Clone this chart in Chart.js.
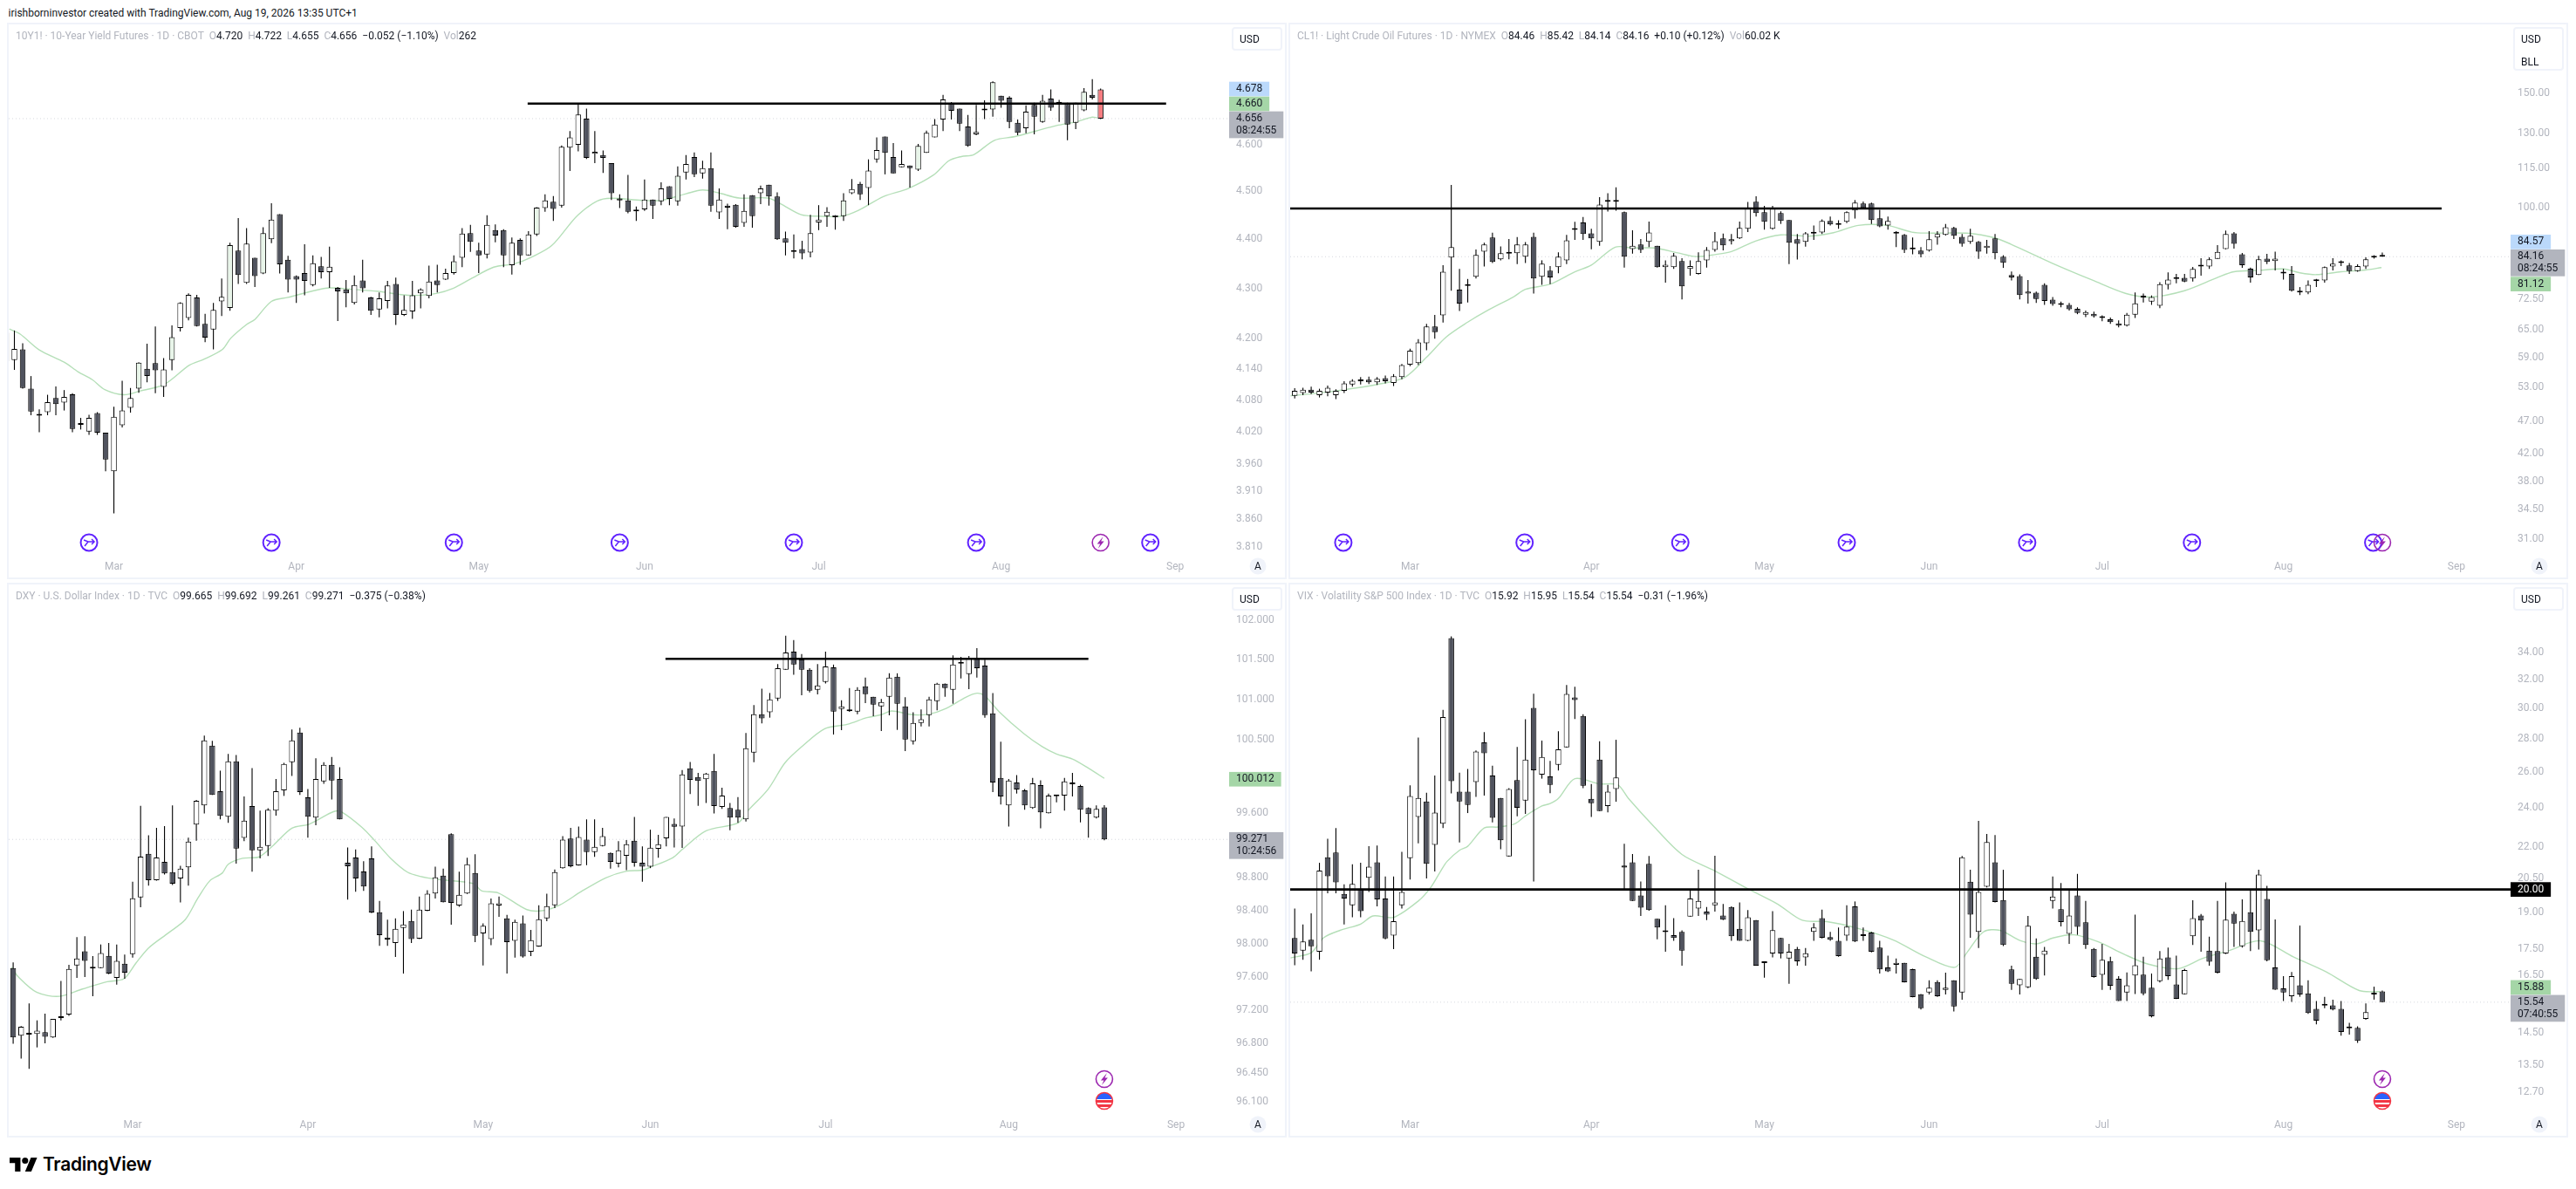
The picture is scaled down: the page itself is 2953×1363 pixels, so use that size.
<!DOCTYPE html>
<html>
<head>
<meta charset="utf-8">
<title>TradingView multi chart</title>
<script src="https://cdn.jsdelivr.net/npm/chart.js@4/dist/chart.umd.min.js"></script>
<style>
  html, body { margin: 0; padding: 0; background: #fff; width: 2953px; height: 1363px; overflow: hidden; }
  body { position: relative; font-family: Roboto, "Open Sans", sans-serif; font-size: 12px; color: #131722; }
  .abs { position: absolute; white-space: pre; }
  .frame { position: absolute; border: 2px solid #f0f3fa; box-sizing: border-box; }
  .mute { color: #b2b5be; }
  .unit { position: absolute; box-sizing: border-box; border: 2px solid #f0f3fa; border-radius: 4px; background: #fff; }
  canvas { position: absolute; }
</style>
</head>
<body>
<script>
// candles are [open, high, low, close]
const yieldFirstIndex = -1;
const yieldCandles = [
  [4.212,4.212,4.156,4.156],[4.158,4.216,4.139,4.180],[4.179,4.191,4.103,4.104],[4.103,4.127,4.052,4.059],[4.053,4.063,4.020,4.051],
  [4.058,4.091,4.052,4.077],[4.085,4.107,4.052,4.073],[4.076,4.100,4.061,4.087],[4.092,4.094,4.020,4.026],[4.035,4.047,4.025,4.034],
  [4.021,4.053,4.015,4.047],[4.056,4.058,4.015,4.019],[4.019,4.019,3.947,3.969],[3.947,4.068,3.870,4.049],[4.033,4.118,4.029,4.061],
  [4.066,4.104,4.057,4.085],[4.103,4.154,4.095,4.153],[4.141,4.190,4.115,4.127],[4.152,4.224,4.094,4.138],[4.106,4.162,4.087,4.140],
  [4.158,4.226,4.138,4.203],[4.221,4.272,4.214,4.271],[4.241,4.290,4.236,4.287],[4.282,4.287,4.224,4.225],[4.229,4.249,4.193,4.202],
  [4.218,4.271,4.179,4.257],[4.274,4.320,4.245,4.283],[4.261,4.393,4.255,4.388],[4.377,4.444,4.309,4.327],[4.311,4.423,4.309,4.391],
  [4.362,4.362,4.303,4.325],[4.330,4.425,4.329,4.413],[4.400,4.475,4.392,4.441],[4.452,4.452,4.330,4.349],[4.358,4.366,4.292,4.318],
  [4.325,4.326,4.271,4.318],[4.331,4.390,4.286,4.315],[4.307,4.367,4.304,4.351],[4.345,4.364,4.320,4.333],[4.333,4.385,4.301,4.344],
  [4.301,4.303,4.235,4.294],[4.298,4.317,4.262,4.290],[4.271,4.326,4.268,4.307],[4.316,4.358,4.292,4.300],[4.282,4.283,4.247,4.255],
  [4.258,4.292,4.242,4.280],[4.275,4.315,4.260,4.306],[4.309,4.322,4.227,4.247],[4.247,4.286,4.245,4.257],[4.254,4.315,4.239,4.286],
  [4.290,4.300,4.260,4.298],[4.285,4.346,4.280,4.314],[4.316,4.348,4.292,4.307],[4.318,4.340,4.317,4.331],[4.331,4.367,4.328,4.355],
  [4.362,4.423,4.343,4.412],[4.413,4.430,4.374,4.395],[4.377,4.393,4.331,4.367],[4.369,4.450,4.361,4.430],[4.419,4.431,4.394,4.408],
  [4.419,4.421,4.343,4.367],[4.347,4.404,4.328,4.393],[4.399,4.402,4.348,4.367],[4.367,4.417,4.367,4.410],[4.410,4.467,4.407,4.466],
  [4.465,4.494,4.457,4.481],[4.478,4.490,4.438,4.463],[4.470,4.598,4.466,4.595],[4.593,4.629,4.543,4.615],[4.599,4.688,4.585,4.665],
  [4.656,4.678,4.569,4.571],[4.580,4.629,4.560,4.584],[4.577,4.587,4.539,4.571],[4.560,4.560,4.482,4.496],[4.485,4.494,4.465,4.481],
  [4.481,4.535,4.454,4.457],[4.460,4.468,4.438,4.458],[4.462,4.525,4.459,4.483],[4.483,4.483,4.442,4.470],[4.479,4.519,4.471,4.506],
  [4.511,4.511,4.471,4.484],[4.479,4.553,4.470,4.533],[4.540,4.577,4.525,4.558],[4.573,4.583,4.530,4.536],[4.538,4.565,4.527,4.549],
  [4.549,4.583,4.457,4.470],[4.456,4.506,4.442,4.483],[4.470,4.474,4.421,4.466],[4.472,4.473,4.424,4.426],[4.434,4.494,4.426,4.459],
  [4.492,4.492,4.424,4.448],[4.496,4.512,4.473,4.506],[4.514,4.514,4.470,4.489],[4.489,4.498,4.399,4.400],[4.402,4.416,4.367,4.393],
  [4.375,4.410,4.361,4.374],[4.380,4.397,4.359,4.371],[4.373,4.451,4.363,4.413],[4.435,4.471,4.419,4.441],[4.448,4.467,4.426,4.457],
  [4.450,4.450,4.420,4.446],[4.448,4.496,4.438,4.481],[4.496,4.526,4.494,4.505],[4.516,4.520,4.482,4.494],[4.507,4.568,4.471,4.544],
  [4.568,4.615,4.561,4.588],[4.617,4.617,4.536,4.582],[4.573,4.603,4.538,4.538],[4.551,4.587,4.551,4.558],[4.555,4.555,4.508,4.549],
  [4.546,4.601,4.543,4.597],[4.582,4.630,4.582,4.625],[4.615,4.655,4.615,4.643],[4.654,4.708,4.629,4.698],[4.689,4.692,4.654,4.673],
  [4.678,4.678,4.629,4.645],[4.639,4.664,4.595,4.597],[4.622,4.686,4.620,4.627],[4.676,4.696,4.655,4.674],[4.676,4.738,4.660,4.736],
  [4.706,4.706,4.680,4.695],[4.702,4.705,4.635,4.649],[4.647,4.654,4.620,4.625],[4.635,4.685,4.624,4.671],[4.686,4.691,4.622,4.660],
  [4.649,4.708,4.647,4.695],[4.700,4.720,4.673,4.680],[4.691,4.697,4.649,4.689],[4.688,4.691,4.609,4.643],[4.647,4.691,4.633,4.691],
  [4.674,4.723,4.672,4.715],[4.708,4.743,4.698,4.702],[4.720,4.722,4.655,4.656]
];
const yieldTinted = [15,19,26,30,53,63,80,100,109,118,124,129];
const yieldAlert = [131];
const yieldEmaIndex = [-0.6,0.7,3,6,7.7,9.4,10.9,13.2,15.1,18.1,21.1,22.9,25.1,26.1,28,29,31,33,36,38,41,43.9,46.9,48.4,50.9,52.9,54.9,57.8,60.3,62.3,64.8,68,71,75.7,78,81,83,84.9,87.4,90.9,92.4,94.9,96.9,99.8,101.8,104.8,107.8,110.8,112.7,114.2,115.7,118.2,120.7,123.2,125.7,128.1,129.9,130.6];
const yieldEmaValue = [4.219,4.209,4.178,4.154,4.135,4.120,4.101,4.091,4.098,4.111,4.148,4.160,4.179,4.201,4.228,4.238,4.274,4.282,4.295,4.301,4.298,4.294,4.287,4.286,4.290,4.300,4.318,4.343,4.350,4.363,4.387,4.451,4.484,4.481,4.481,4.495,4.503,4.497,4.486,4.486,4.474,4.451,4.448,4.448,4.460,4.489,4.506,4.534,4.565,4.574,4.578,4.609,4.617,4.629,4.641,4.649,4.659,4.658];
const yieldTicks = [4.6,4.5,4.4,4.3,4.2,4.14,4.08,4.02,3.96,3.91,3.86,3.81];
const yieldMonths = [12,34,56,76,97,119,140];
const yieldLevel = { from: 61.9, to: 138.9, value: 4.689 };
const yieldArrows = [9,31,53,73,94,116,137];
const yieldBolts = [131];
const yieldFlags = [];

const oilFirstIndex = 0;
const oilCandles = [
  [51.5,52.9,51.0,52.4],[52.0,53.0,51.6,52.6],[52.6,53.2,51.8,52.1],[51.6,52.8,51.2,52.4],[52.1,53.4,51.4,53.0],
  [51.6,52.7,50.9,52.4],[52.4,54.2,52.0,53.8],[53.6,54.6,53.2,54.3],[54.2,55.0,53.6,54.4],[54.5,55.1,53.7,54.0],
  [54.0,55.0,53.5,54.7],[54.8,55.3,53.8,54.2],[53.9,55.6,53.3,55.2],[55.0,57.6,54.6,57.4],[57.5,60.8,57.2,60.4],
  [57.8,62.9,57.4,62.2],[62.0,66.4,60.5,65.8],[65.8,68.5,63.0,64.5],[68.4,81.7,66.7,79.8],[83.9,108.4,74.65,87.05],
  [74.9,80.6,69.5,71.3],[76.1,77.8,71.6,75.9],[78.4,86.36,77.9,84.7],[85.7,88.4,81.3,87.85],[90.05,91.63,82.3,82.6],
  [83.4,87.3,83.1,85.2],[85.1,89.6,83.4,85.3],[85.2,90.2,82.0,87.85],[84.15,88.6,82.3,87.85],[90.3,91.63,73.9,77.9],
  [78.4,83.1,76.2,82.1],[80.1,81.4,76.4,78.2],[81.1,85.5,79.4,84.15],[83.1,90.9,82.0,89.2],[92.7,95.2,89.3,92.5],
  [95.0,96.8,89.3,91.2],[91.4,92.9,86.4,89.8],[88.7,103.9,87.5,101.2],[102.2,105.3,98.7,102.8],[102.5,107.5,99.0,102.2],
  [98.5,98.7,81.0,84.15],[86.5,92.4,85.1,87.5],[87.85,89.6,85.3,86.2],[88.7,95.3,87.05,91.7],[87.5,87.5,81.0,81.1],
  [81.1,83.1,76.8,81.8],[81.1,85.3,80.6,84.4],[82.9,83.7,72.4,75.8],[80.6,83.1,78.7,81.4],[79.2,85.5,79.0,82.9],
  [83.1,87.05,81.0,86.2],[86.2,91.8,85.7,88.9],[89.8,91.3,86.1,87.6],[88.9,91.2,87.9,89.5],[89.8,95.3,89.6,93.2],
  [92.9,102.1,91.8,100.0],[102.2,104.2,97.0,98.2],[98.5,100.7,92.6,95.2],[92.9,100.7,92.6,100.0],[98.2,98.8,94.5,95.5],
  [95.8,95.8,82.0,88.4],[89.5,91.2,83.3,88.1],[88.7,91.8,87.2,91.4],[91.5,94.0,89.3,91.3],[91.7,96.0,91.2,95.5],
  [95.5,97.0,94.0,94.3],[94.4,95.7,92.9,94.2],[95.2,98.8,94.8,98.5],[99.1,102.8,96.3,101.9],[101.55,102.3,99.7,100.0],
  [101.55,101.9,94.5,95.8],[96.4,99.3,93.4,93.7],[94.0,97.0,92.6,95.5],[91.5,92.1,87.05,91.3],[90.9,91.2,85.3,86.2],
  [86.6,90.05,84.9,86.4],[86.0,87.05,84.0,84.9],[86.0,92.1,85.7,89.5],[90.05,92.1,87.8,91.2],[90.9,94.5,90.7,93.4],
  [93.2,93.5,89.6,90.6],[90.3,91.2,87.2,88.1],[88.7,92.9,88.1,90.6],[88.7,89.0,83.5,85.7],[86.8,89.3,85.1,87.5],
  [89.8,91.2,83.4,85.2],[84.15,84.6,80.9,82.4],[78.9,79.9,77.4,78.2],[78.6,79.1,72.4,73.5],[73.9,77.5,71.3,74.4],
  [74.1,74.4,71.5,72.5],[76.2,76.6,71.0,72.0],[72.3,73.0,70.8,71.2],[71.0,71.8,70.4,71.4],[71.0,71.5,69.6,69.9],
  [70.0,70.4,68.7,69.0],[68.6,69.6,68.0,69.2],[68.8,69.3,67.9,68.2],[67.8,68.4,67.0,67.9],[67.5,67.9,66.4,66.8],
  [66.5,67.2,65.6,66.0],[66.0,69.0,65.8,68.6],[68.6,74.2,67.8,71.4],[73.2,73.9,71.6,72.9],[71.8,73.4,71.0,73.0],
  [70.8,76.9,70.2,76.4],[76.2,79.6,75.0,77.6],[77.8,79.2,76.6,78.0],[78.1,79.2,76.9,77.1],[77.9,81.2,77.1,80.6],
  [81.3,83.7,78.7,81.8],[81.3,84.0,80.6,83.4],[83.5,87.7,83.5,85.6],[86.5,92.3,86.4,91.2],[91.4,91.8,86.6,88.1],
  [84.9,85.3,80.9,81.7],[80.7,81.0,76.8,78.2],[78.9,84.4,78.9,83.4],[83.6,85.0,82.0,82.6],[82.9,85.7,80.2,83.6],
  [79.5,80.6,77.6,79.3],[79.2,81.4,74.4,74.65],[74.3,75.6,73.5,74.2],[74.2,77.4,73.7,76.2],[77.2,77.8,75.6,77.4],
  [77.4,81.3,76.8,81.1],[81.3,83.7,80.2,82.1],[82.4,83.1,81.4,82.3],[81.6,82.3,79.2,80.0],[80.0,81.9,79.8,81.4],
  [81.3,84.0,80.6,83.4],[84.1,84.6,83.6,83.9],[84.46,85.42,84.14,84.16]
];
const oilTinted = [];
const oilAlert = [];
const oilEmaIndex = [-0.5,4,10,13.4,16,18.4,21,23.3,26.6,28,31,34,36,38.9,41,43.7,46.5,48.7,51,53,56,59,62.4,65.4,68.4,71.9,74.9,76.8,81.9,84.9,86.9,91.9,96.9,100.9,103.9,108,112,114,117,120,122,124,127,130,131.9];
const oilEmaValue = [51.5,52.2,53.6,55,59,63.4,66.8,69.5,73.1,75,76.4,79.8,81.7,87.05,86.8,86.8,85.3,84.2,84.8,85.7,89,90.9,90.5,91.6,94,94,91.8,91.5,91.4,90,88,82.3,77.4,73.9,73,74.65,78.2,79.8,80.2,80.6,79.5,79,79.8,80.3,81];
const oilTicks = [150,130,115,100,72.5,65,59,53,47,42,38,34.5,31];
const oilMonths = [14,36,57,77,98,120,141];
const oilLevel = { from: -0.55, to: 139.2, value: 99.8 };
const oilArrows = [5.9,27.9,46.8,67,88.9,108.9,130.9];
const oilBolts = [132];
const oilFlags = [];

const dollarFirstIndex = 0;
const dollarCandles = [
  [97.705,97.772,96.794,96.871],[96.892,97.005,96.618,96.998],[96.913,97.279,96.494,96.905],[96.913,97.075,96.751,96.952],[96.934,97.156,96.801,96.878],
  [96.871,97.093,96.864,97.093],[97.103,97.550,97.075,97.124],[97.146,97.744,97.128,97.695],[97.737,98.078,97.586,97.821],[97.906,98.089,97.596,97.790],
  [97.705,97.850,97.364,97.698],[97.705,97.990,97.702,97.885],[97.853,98.008,97.631,97.638],[97.586,97.990,97.505,97.790],[97.758,97.867,97.575,97.649],
  [97.874,98.754,97.832,98.550],[98.561,99.683,98.441,99.060],[99.093,99.321,98.705,98.772],[98.772,99.412,98.765,99.050],[98.995,99.433,98.842,98.853],
  [98.870,99.690,98.712,98.730],[98.793,98.948,98.501,98.912],[98.930,99.292,98.705,99.245],[99.452,99.756,99.256,99.745],[99.690,100.552,99.589,100.494],
  [100.429,100.487,99.817,99.817],[99.864,100.118,99.517,99.560],[99.549,100.324,99.473,100.233],[100.233,100.313,98.974,99.158],[99.289,99.799,99.249,99.502],
  [99.680,100.150,98.876,99.137],[99.137,99.625,99.039,99.180],[99.191,99.654,99.068,99.636],[99.625,100.016,99.564,99.864],[99.875,100.215,99.806,100.201],
  [100.223,100.628,100.052,100.494],[100.592,100.650,99.817,99.853],[99.788,99.890,99.292,99.549],[99.538,100.270,99.444,100.016],[99.984,100.223,99.955,100.190],
  [100.190,100.288,99.763,99.995],[100.016,100.161,99.517,99.517],[98.985,99.173,98.536,98.941],[99.050,99.147,98.631,98.793],[98.877,99.003,98.642,98.694],
  [99.039,99.184,98.371,98.378],[98.381,98.518,97.973,98.103],[98.075,98.290,97.973,98.050],[98.008,98.307,97.839,98.180],[98.191,98.395,97.638,98.233],
  [98.276,98.413,98.008,98.054],[98.061,98.571,98.054,98.413],[98.399,98.649,98.395,98.606],[98.610,98.937,98.547,98.807],[98.828,98.912,98.501,98.504],
  [99.336,99.347,98.230,98.494],[98.462,98.876,98.448,98.592],[98.610,99.046,98.603,98.966],[98.860,99.090,98.019,98.096],[98.124,98.247,97.737,98.216],
  [98.054,98.547,97.980,98.490],[98.462,98.571,98.325,98.490],[98.307,98.349,97.638,98.019],[98.033,98.290,97.832,98.265],[98.247,98.342,97.832,97.843],
  [97.902,98.166,97.850,98.043],[97.966,98.466,97.962,98.297],[98.307,98.606,98.272,98.455],[98.466,98.901,98.430,98.870],[98.919,99.310,98.912,99.267],
  [99.281,99.412,98.930,98.941],[98.952,99.430,98.950,99.299],[99.267,99.517,98.955,99.115],[99.115,99.517,99.057,99.180],[99.191,99.412,99.184,99.310],
  [99.104,99.111,98.912,98.995],[98.974,99.249,98.930,99.137],[99.071,99.263,98.894,99.213],[99.256,99.546,98.937,98.985],[98.985,99.184,98.754,98.937],
  [98.937,99.390,98.919,99.169],[99.155,99.328,99.046,99.213],[99.285,99.546,99.184,99.546],[99.462,99.528,99.173,99.426],[99.430,100.125,99.166,100.071],
  [100.147,100.226,99.828,100.005],[100.038,100.089,99.683,99.991],[100.013,100.089,99.719,100.081],[100.114,100.324,99.589,99.680],[99.669,99.908,99.647,99.810],
  [99.658,99.719,99.383,99.538],[99.636,99.792,99.473,99.538],[99.517,100.585,99.491,100.396],[100.342,100.932,100.223,100.820],[100.820,101.138,100.704,100.766],
  [100.842,101.084,100.776,101.005],[101.015,101.446,100.986,101.395],[101.374,101.801,101.374,101.591],[101.602,101.747,101.312,101.439],[101.504,101.573,101.055,101.374],
  [101.374,101.395,101.091,101.113],[101.124,101.446,101.066,101.178],[101.222,101.602,101.204,101.417],[101.406,101.439,100.566,100.852],[100.885,100.994,100.621,100.918],
  [100.863,101.146,100.849,100.856],[100.852,101.157,100.820,101.124],[101.167,101.276,100.957,101.070],[101.037,101.037,100.795,100.939],[100.918,101.008,100.610,100.972],
  [101.037,101.330,100.805,101.276],[101.287,101.330,100.624,100.950],[100.918,101.030,100.360,100.505],[100.483,100.842,100.443,100.711],[100.711,100.878,100.668,100.755],
  [100.809,101.037,100.668,101.005],[100.983,101.211,100.867,101.200],[101.200,101.204,101.037,101.146],[101.124,101.555,100.950,101.439],[101.450,101.537,101.265,101.471],
  [101.319,101.548,101.131,101.515],[101.526,101.645,101.276,101.395],[101.428,101.500,100.776,100.809],[100.831,101.084,99.853,99.973],[100.027,100.476,99.701,99.799],
  [99.690,100.016,99.430,99.995],[99.973,100.063,99.835,99.886],[99.875,99.890,99.636,99.690],[99.658,100.027,99.647,99.962],[99.940,99.998,99.408,99.604],
  [99.593,99.835,99.589,99.810],[99.810,99.810,99.727,99.803],[99.810,100.027,99.625,99.984],[99.962,100.089,99.799,99.951],[99.929,99.944,99.480,99.636],
  [99.658,99.665,99.292,99.582],[99.538,99.690,99.528,99.647],[99.665,99.692,99.261,99.271]
];
const dollarTinted = [];
const dollarAlert = [];
const dollarEmaIndex = [-0.2,0.6,3,5.8,8.7,11.8,13.9,15.4,17,19.5,21.6,23.2,24.7,26.25,27,28.8,30.9,32.7,35,37.1,38.1,40.2,41.2,43.8,45.4,47.4,49.5,51.1,53.2,57.8,58.8,60.9,64.5,66.6,68.7,71.3,74.4,76.9,79,80,82.8,84,87,91,92.2,94.8,96.9,99,101.9,104.7,107.2,109,110.3,112.9,115,117,119.6,121,122,123.8,126.9,129.2,131,133,135.1,137];
const dollarEmaValue = [97.716,97.603,97.410,97.364,97.452,97.540,97.575,97.762,97.948,98.131,98.290,98.554,98.765,98.858,98.966,99.039,99.057,99.202,99.408,99.455,99.502,99.611,99.611,99.419,99.256,99.039,98.870,98.818,98.782,98.730,98.642,98.617,98.413,98.402,98.473,98.631,98.800,98.880,98.894,98.930,99.046,99.147,99.376,99.473,99.618,99.890,100.215,100.415,100.639,100.693,100.776,100.813,100.860,100.813,100.820,100.885,101.030,101.081,101.048,100.849,100.577,100.415,100.324,100.262,100.143,100.023];
const dollarTicks = [102,101.5,101,100.5,99.6,98.8,98.4,98,97.6,97.2,96.8,96.45,96.1];
const dollarMonths = [15,37,59,80,102,125,146];
const dollarLevel = { from: 81.9, to: 135, value: 101.511 };
const dollarArrows = [];
const dollarBolts = [137];
const dollarFlags = [137];

const vixFirstIndex = 0;
const vixCandles = [
  [17.94,19.16,16.88,17.33],[17.44,18.49,17.09,17.80],[17.87,18.96,16.65,17.61],[17.40,21.23,17.09,20.86],[21.49,22.40,19.83,20.60],
  [21.73,22.95,19.83,20.32],[19.80,20.23,18.49,19.60],[19.30,21.16,18.79,20.25],[20.03,21.23,18.79,19.05],[20.53,22.03,19.89,21.05],
  [21.25,22.07,19.26,19.56],[19.60,20.59,17.89,17.92],[18.04,20.59,17.50,18.63],[19.30,21.76,19.16,19.89],[21.45,25.25,20.45,24.65],
  [23.53,28.10,22.18,24.55],[24.36,24.84,20.50,21.18],[22.10,25.81,20.82,23.75],[23.17,29.90,22.95,29.42],[35.10,35.24,24.80,25.48],
  [24.89,25.98,22.22,24.36],[24.89,26.19,23.73,24.16],[25.43,27.30,24.60,27.23],[27.80,28.44,24.68,27.13],[25.81,26.39,23.24,23.48],
  [24.55,24.55,21.89,22.33],[21.53,25.09,21.52,25.04],[25.55,27.51,23.56,24.01],[24.40,29.27,23.69,26.75],[30.02,31.00,20.36,26.12],
  [25.86,27.91,25.63,26.91],[25.76,26.67,24.81,25.28],[26.44,28.50,26.10,27.37],[27.49,31.60,27.47,30.98],[30.74,31.48,29.29,30.56],
  [29.49,29.60,25.09,25.22],[24.50,25.33,23.52,24.26],[26.75,27.87,23.84,23.84],[24.11,25.28,23.77,24.89],[25.04,27.96,24.34,25.70],
  [21.10,22.15,19.96,21.01],[21.25,21.65,19.49,19.49],[19.73,20.36,18.85,19.20],[21.18,21.56,19.07,19.10],[18.73,18.73,17.89,18.37],
  [18.19,19.30,17.40,18.18],[18.06,18.76,17.83,17.94],[18.19,18.25,16.86,17.44],[18.82,19.96,18.82,19.60],[19.16,20.90,18.85,19.49],
  [19.03,19.23,18.67,18.90],[19.30,21.57,19.03,19.43],[18.87,19.36,18.67,18.69],[19.23,19.26,17.83,18.01],[18.31,19.43,17.83,17.83],
  [17.83,19.10,17.81,18.79],[18.67,18.67,16.86,16.86],[16.97,17.03,16.42,16.96],[17.33,19.05,17.18,18.26],[17.94,17.95,17.14,17.33],
  [17.14,17.71,16.19,17.40],[17.51,17.59,16.86,17.03],[17.18,17.54,16.86,17.34],[18.19,18.55,17.83,18.37],[18.76,19.12,17.92,17.95],
  [17.98,18.19,17.83,17.87],[17.83,18.37,17.20,17.23],[18.04,19.30,17.83,18.40],[19.26,19.47,17.78,17.80],[18.07,18.37,17.83,18.02],
  [18.16,18.19,17.37,17.40],[17.56,17.83,16.57,16.72],[16.80,17.25,16.63,16.65],[16.90,17.14,16.57,16.97],[16.97,16.97,16.24,16.25],
  [16.73,16.75,15.71,15.72],[15.82,15.83,15.29,15.33],[15.88,16.32,15.81,16.05],[16.26,16.32,15.73,15.75],[15.97,16.60,15.81,16.05],
  [16.32,16.32,15.22,15.39],[15.88,21.56,15.63,21.49],[20.35,20.90,17.95,18.90],[18.19,23.32,17.54,19.89],[20.12,22.65,20.09,22.24],
  [21.25,22.59,19.43,19.45],[19.53,20.90,17.62,17.66],[16.72,16.86,15.97,16.19],[16.14,16.37,15.81,16.37],[16.07,18.85,16.04,18.44],
  [17.20,17.92,16.34,16.37],[17.28,17.59,16.50,17.44],[19.49,20.59,19.16,19.69],[19.14,20.29,18.41,18.59],[18.11,19.96,17.71,18.87],
  [19.73,20.71,18.07,18.39],[18.58,19.49,17.51,17.66],[17.51,17.54,16.42,16.44],[16.52,17.71,15.97,17.09],[17.04,17.20,15.97,16.12],
  [16.38,16.47,15.58,15.58],[15.88,16.61,15.58,16.14],[16.50,18.90,15.83,16.88],[16.53,17.20,15.78,15.85],[16.05,16.57,15.02,15.06],
  [16.29,17.42,16.24,17.14],[17.18,17.56,16.34,16.47],[16.17,17.25,15.65,15.66],[15.82,16.75,15.81,16.70],[18.01,19.52,17.66,18.76],
  [18.87,18.93,17.40,18.66],[17.44,17.99,16.86,17.01],[17.42,19.49,16.57,16.60],[17.33,20.32,17.31,18.69],[18.94,19.03,17.59,18.53],
  [17.61,19.56,17.56,18.64],[19.01,20.00,17.42,18.19],[18.25,20.90,17.48,20.68],[19.58,20.16,17.03,17.07],[16.80,18.70,15.97,15.98],
  [16.03,16.47,15.58,15.88],[15.75,16.63,15.55,16.47],[16.14,18.45,15.73,15.81],[15.85,16.32,15.14,15.17],[15.31,15.58,14.79,14.91],
  [15.46,15.73,15.33,15.42],[15.43,15.63,15.26,15.29],[15.31,15.58,14.42,14.54],[14.70,14.84,14.45,14.66],[14.67,14.72,14.19,14.25],
  [14.97,15.50,14.94,15.20],[15.85,16.09,15.63,15.81],[15.92,15.95,15.54,15.54]
];
const vixTinted = [];
const vixAlert = [];
const vixEmaIndex = [-0.5,2,3.5,5.5,8,9.5,12,15,16.5,17.7,18.5,20,21,23,24.7,26.7,28,30,31,32,34,37,39.2,40.5,43.5,47,51,55,58.6,61.6,64.6,68.6,72.6,76.6,80.1,81.6,83.6,85.6,88.1,90.1,92.1,94.6,97.6,100.6,103.6,107.2,110.2,113.2,117.2,121.2,125.2,129.2,131.7];
const vixEmaValue = [17.16,17.36,17.95,18.25,18.51,18.85,18.79,19.49,20.09,20.83,21.30,21.83,22.03,22.95,23.0,23.17,23.58,24.11,24.24,24.52,25.63,25.33,25.28,24.52,23.07,21.63,20.85,20.03,19.36,18.67,18.61,18.31,17.87,17.20,16.80,17.37,18.19,18.25,17.83,17.71,17.95,18.07,17.78,17.31,16.92,16.75,17.14,17.42,17.83,17.20,16.63,15.95,15.91];
const vixTicks = [34,32,30,28,26,24,22,20.5,19,17.5,16.5,14.5,13.5,12.7];
const vixMonths = [14,36,57,77,98,120,141];
const vixLevel = { from: -0.55, to: 147.57, value: 20 };
const vixArrows = [];
const vixBolts = [132];
const vixFlags = [132];

const monthLabels = ['Mar','Apr','May','Jun','Jul','Aug','Sep'];

const WHITE = '#ffffff', DARK = '#50535e', TINT = '#e8f5e9', ALERT = '#f77c80';
const EMA = '#b5dfb8', BLACK = '#000000';
const BLUE_TAG = '#bbd9fb', GREEN_TAG = '#a5d6a7', GREY_TAG = '#b2b5be';
const TEXT = '#131722', MUTE = '#b2b5be';
const UI_FONT = 'Roboto, "Open Sans", sans-serif';
const AXIS_W = 65;
const GREY_H = 30.7, TAG_H = 16.7;

// price tags on the axis, stacked round the grey last-price tag
function priceTags(chart, p) {
  const ctx = chart.ctx, y = chart.scales.y, x0 = chart.scales.x.right;
  const last = p.candles[p.candles.length - 1][3];
  const greyTop = y.getPixelForValue(last) - 8.3;
  ctx.save();
  ctx.font = '12px ' + UI_FONT;
  ctx.textBaseline = 'middle';
  ctx.textAlign = 'left';
  p.tags.forEach(function (t) {
    let top = greyTop;
    if (t.value !== undefined) { top = y.getPixelForValue(t.value) - TAG_H / 2; }
    else if (t.slot < 0) { top = greyTop + t.slot * (TAG_H + 0.3); }
    else if (t.slot > 0) { top = greyTop + GREY_H + 0.6; }
    const widest = Math.max.apply(null, t.lines.map(function (s) { return ctx.measureText(s).width; }));
    const h = t.lines.length > 1 ? GREY_H : TAG_H;
    ctx.fillStyle = t.color;
    ctx.fillRect(x0, top, widest + 16, h);
    ctx.fillStyle = t.textColor || TEXT;
    t.lines.forEach(function (s, i) {
      ctx.fillText(s, x0 + 8, top + TAG_H / 2 + i * 14);
    });
  });
  // "A" auto scale button
  const ax = x0 + 33, ay = y.bottom + 12;
  ctx.fillStyle = '#f0f3fa';
  ctx.beginPath(); ctx.arc(ax, ay, 9.5, 0, Math.PI * 2); ctx.fill();
  ctx.fillStyle = TEXT;
  ctx.textAlign = 'center';
  ctx.fillText('A', ax, ay + 1);
  ctx.restore();
}

function arrowIcon(ctx, x, y) {
  ctx.strokeStyle = '#6022ff'; ctx.lineWidth = 2;
  ctx.beginPath(); ctx.arc(x, y, 9.5, 0, Math.PI * 2); ctx.stroke();
  ctx.lineWidth = 1.5;
  ctx.beginPath();
  ctx.moveTo(x - 6, y - 3); ctx.lineTo(x - 1, y - 1); ctx.lineTo(x + 6, y - 1);
  ctx.moveTo(x + 3, y - 4); ctx.lineTo(x + 6, y - 1); ctx.lineTo(x + 3, y + 2);
  ctx.moveTo(x - 1, y - 1); ctx.lineTo(x - 5, y + 4);
  ctx.stroke();
}

function boltIcon(ctx, x, y) {
  ctx.strokeStyle = '#9c27b0'; ctx.lineWidth = 1.6;
  ctx.beginPath(); ctx.arc(x, y, 9.5, 0, Math.PI * 2); ctx.stroke();
  ctx.fillStyle = '#9c27b0';
  ctx.beginPath();
  ctx.moveTo(x + 3, y - 7); ctx.lineTo(x - 4, y + 1.5); ctx.lineTo(x - 0.5, y + 1.5);
  ctx.lineTo(x - 3, y + 7); ctx.lineTo(x + 4, y - 1.5); ctx.lineTo(x + 0.5, y - 1.5);
  ctx.closePath(); ctx.fill();
}

function flagIcon(ctx, x, y) {
  ctx.save();
  ctx.beginPath(); ctx.arc(x, y, 9.5, 0, Math.PI * 2); ctx.clip();
  ctx.fillStyle = '#ffffff'; ctx.fillRect(x - 10, y - 10, 20, 20);
  ctx.fillStyle = '#f23645';
  ctx.fillRect(x - 10, y - 1, 20, 3); ctx.fillRect(x - 10, y + 4, 20, 3);
  ctx.fillStyle = '#2962ff'; ctx.fillRect(x - 10, y - 10, 20, 8);
  ctx.restore();
  ctx.strokeStyle = '#f23645'; ctx.lineWidth = 1.6;
  ctx.beginPath(); ctx.arc(x, y, 9.5, 0, Math.PI * 2); ctx.stroke();
}

const overlayPlugin = {
  id: 'overlay',
  afterDraw: function (chart) {
    const p = chart.options.plugins.overlay.panel;
    const ctx = chart.ctx, sx = chart.scales.x, bottom = chart.scales.y.bottom;
    ctx.save();
    p.arrows.forEach(function (i) { arrowIcon(ctx, sx.getPixelForValue(i), bottom - 15); });
    p.bolts.forEach(function (i) { boltIcon(ctx, sx.getPixelForValue(i), bottom - (p.flags.length ? 40 : 15)); });
    p.flags.forEach(function (i) { flagIcon(ctx, sx.getPixelForValue(i), bottom - 15); });
    ctx.restore();
    priceTags(chart, p);
  }
};

function bodyColor(p, i, c) {
  const idx = i + p.first;
  if (p.alert.indexOf(idx) >= 0) { return ALERT; }
  if (p.tinted.indexOf(idx) >= 0) { return TINT; }
  return c[3] >= c[0] ? WHITE : DARK;
}

function drawPanel(p) {
  const canvas = document.createElement('canvas');
  canvas.style.left = p.left + 'px';
  canvas.style.top = p.top + 'px';
  canvas.style.width = p.width + 'px';
  canvas.style.height = p.height + 'px';
  canvas.width = p.width;
  canvas.height = p.height;
  document.body.appendChild(canvas);

  const last = p.candles[p.candles.length - 1][3];
  new Chart(canvas.getContext('2d'), {
    type: 'bar',
    data: {
      datasets: [
        { type: 'line', order: 0, data: [{ x: p.level.from, y: p.level.value }, { x: p.level.to, y: p.level.value }],
          borderColor: BLACK, borderWidth: 2.6, pointRadius: 0 },
        { order: 1, data: p.candles.map(function (c, i) { return { x: i + p.first, y: [c[0], c[3]] }; }),
          backgroundColor: p.candles.map(function (c, i) { return bodyColor(p, i, c); }),
          borderColor: BLACK, borderWidth: 1, borderSkipped: false, inflateAmount: 0, barThickness: 6.5, minBarLength: 2, grouped: false },
        { order: 2, data: p.candles.map(function (c, i) { return { x: i + p.first, y: [c[2], c[1]] }; }),
          backgroundColor: BLACK, borderWidth: 0, inflateAmount: 0, barThickness: 1.1, grouped: false },
        { type: 'line', order: 3, data: p.emaIndex.map(function (x, i) { return { x: x, y: p.emaValue[i] }; }),
          borderColor: EMA, borderWidth: 1.4, pointRadius: 0, tension: 0.3 },
        { type: 'line', order: 4, data: [{ x: p.xMin, y: last }, { x: p.xMax, y: last }],
          borderColor: '#d6d8de', borderWidth: 1, borderDash: [1, 3], pointRadius: 0 }
      ]
    },
    plugins: [overlayPlugin],
    options: {
      responsive: false,
      animation: false,
      devicePixelRatio: 1,
      events: [],
      layout: { padding: 0 },
      plugins: { legend: { display: false }, tooltip: { enabled: false }, overlay: { panel: p } },
      scales: {
        x: {
          type: 'linear', offset: false, min: p.xMin, max: p.xMax,
          grid: { display: false, drawTicks: false, offset: false }, border: { display: false },
          ticks: {
            color: MUTE, font: { family: UI_FONT, size: 12 }, padding: 6, autoSkip: false, maxRotation: 0,
            callback: function (v) { return monthLabels[p.months.indexOf(v)]; }
          },
          afterBuildTicks: function (s) { s.ticks = p.months.map(function (v) { return { value: v }; }); },
          afterFit: function (s) { s.height = p.height - p.plotHeight; s.paddingLeft = 0; s.paddingRight = 0; }
        },
        y: {
          type: 'logarithmic', position: 'right', min: p.yMin, max: p.yMax,
          grid: { display: false, drawTicks: false }, border: { display: false },
          ticks: {
            color: MUTE, font: { family: UI_FONT, size: 12 }, padding: 8, autoSkip: false, crossAlign: 'near',
            callback: function (v) { return v.toFixed(p.decimals); }
          },
          afterBuildTicks: function (s) { s.ticks = p.ticks.map(function (v) { return { value: v }; }); },
          afterFit: function (s) { s.width = AXIS_W; s.paddingTop = 0; s.paddingBottom = 0; }
        }
      }
    }
  });

  // frame
  const frame = document.createElement('div');
  frame.className = 'frame';
  frame.style.cssText = 'left:' + (p.left - 2) + 'px;top:' + (p.top - 1) + 'px;width:' + (p.width + 3) + 'px;height:' + (p.height + 2) + 'px;';
  document.body.appendChild(frame);

  // legend line
  const leg = document.createElement('div');
  leg.className = 'abs';
  leg.style.cssText = 'left:' + (p.left + 8) + 'px;top:' + (p.top + 7) + 'px;';
  leg.innerHTML = '<span class="mute">' + p.legend + '</span>&nbsp;&nbsp;' +
    ['O','H','L','C'].map(function (k, i) { return '<span class="mute">' + k + '</span>' + p.ohlc[i]; }).join('&nbsp;&nbsp;') +
    '&nbsp;&nbsp;' + p.change + (p.vol ? '&nbsp;&nbsp;<span class="mute">Vol</span>' + p.vol : '');
  document.body.appendChild(leg);

  // currency/unit box
  const box = document.createElement('div');
  box.className = 'unit';
  const boxH = p.units.length > 1 ? 50 : 26.6;
  box.style.cssText = 'left:' + (p.left + p.width - 62) + 'px;top:' + (p.top + 4) + 'px;width:58px;height:' + boxH + 'px;';
  document.body.appendChild(box);
  p.units.forEach(function (u, i) {
    const t = document.createElement('div');
    t.className = 'abs';
    t.textContent = u;
    t.style.cssText = 'left:' + (p.left + p.width - 53) + 'px;top:' + (p.top + 10.5 + i * 26) + 'px;';
    document.body.appendChild(t);
  });
}

const GREY = function (a, b) { return { lines: [a, b], color: GREY_TAG, slot: 0 }; };

[
  { left: 10, top: 27, width: 1464, height: 636, plotHeight: 610, first: yieldFirstIndex, candles: yieldCandles,
    tinted: yieldTinted, alert: yieldAlert, emaIndex: yieldEmaIndex, emaValue: yieldEmaValue, ticks: yieldTicks, months: yieldMonths,
    level: yieldLevel, arrows: yieldArrows, bolts: yieldBolts, flags: yieldFlags, decimals: 3,
    xMin: -0.684, xMax: 146.5, yMin: 3.794, yMax: 4.868, units: ['USD'],
    legend: '10Y1! · 10-Year Yield Futures · 1D · CBOT', ohlc: ['4.720','4.722','4.655','4.656'], change: '−0.052 (−1.10%)', vol: '262',
    tags: [{ lines: ['4.678'], color: BLUE_TAG, slot: -2 }, { lines: ['4.660'], color: GREEN_TAG, slot: -1 }, GREY('4.656','08:24:55')] },
  { left: 1479, top: 27, width: 1464, height: 636, plotHeight: 610, first: oilFirstIndex, candles: oilCandles,
    tinted: oilTinted, alert: oilAlert, emaIndex: oilEmaIndex, emaValue: oilEmaValue, ticks: oilTicks, months: oilMonths,
    level: oilLevel, arrows: oilArrows, bolts: oilBolts, flags: oilFlags, decimals: 2,
    xMin: -0.55, xMax: 147.57, yMin: 29.28, yMax: 191.74, units: ['USD','BLL'],
    legend: 'CL1! · Light Crude Oil Futures · 1D · NYMEX', ohlc: ['84.46','85.42','84.14','84.16'], change: '+0.10 (+0.12%)', vol: '60.02 K',
    tags: [{ lines: ['84.57'], color: BLUE_TAG, slot: -1 }, GREY('84.16','08:24:55'), { lines: ['81.12'], color: GREEN_TAG, slot: 1 }] },
  { left: 10, top: 669, width: 1464, height: 634, plotHeight: 608, first: dollarFirstIndex, candles: dollarCandles,
    tinted: dollarTinted, alert: dollarAlert, emaIndex: dollarEmaIndex, emaValue: dollarEmaValue, ticks: dollarTicks, months: dollarMonths,
    level: dollarLevel, arrows: dollarArrows, bolts: dollarBolts, flags: dollarFlags, decimals: 3,
    xMin: -0.558, xMax: 152.67, yMin: 95.958, yMax: 102.46, units: ['USD'],
    legend: 'DXY · U.S. Dollar Index · 1D · TVC', ohlc: ['99.665','99.692','99.261','99.271'], change: '−0.375 (−0.38%)', vol: '',
    tags: [{ lines: ['100.012'], color: GREEN_TAG, value: 100.012 }, GREY('99.271','10:24:56')] },
  { left: 1479, top: 669, width: 1464, height: 634, plotHeight: 608, first: vixFirstIndex, candles: vixCandles,
    tinted: vixTinted, alert: vixAlert, emaIndex: vixEmaIndex, emaValue: vixEmaValue, ticks: vixTicks, months: vixMonths,
    level: vixLevel, arrows: vixArrows, bolts: vixBolts, flags: vixFlags, decimals: 2,
    xMin: -0.55, xMax: 147.57, yMin: 12.10, yMax: 39.66, units: ['USD'],
    legend: 'VIX · Volatility S&amp;P 500 Index · 1D · TVC', ohlc: ['15.92','15.95','15.54','15.54'], change: '−0.31 (−1.96%)', vol: '',
    tags: [{ lines: ['20.00'], color: BLACK, textColor: '#ffffff', value: 20 }, { lines: ['15.88'], color: GREEN_TAG, slot: -1 }, GREY('15.54','07:40:55')] }
].forEach(drawPanel);

// page header and logo
const head = document.createElement('div');
head.className = 'abs';
head.style.cssText = 'left:9.5px;top:8px;';
head.textContent = 'irishborninvestor created with TradingView.com, Aug 19, 2026 13:35 UTC+1';
document.body.appendChild(head);

const logo = document.createElement('div');
logo.className = 'abs';
logo.style.cssText = 'left:11px;top:1322px;font-size:21px;font-weight:600;color:#000;display:flex;align-items:center;gap:6px;font-family:Inter,Roboto,sans-serif;letter-spacing:-0.3px;';
logo.innerHTML = '<svg width="32" height="18" viewBox="0 3 36 20"><path d="M14 22H7V11H0V4h14v18zM28 22h-8l7.5-18h8L28 22z"/><circle cx="20" cy="8" r="4"/></svg>TradingView';
document.body.appendChild(logo);
</script>
</body>
</html>
